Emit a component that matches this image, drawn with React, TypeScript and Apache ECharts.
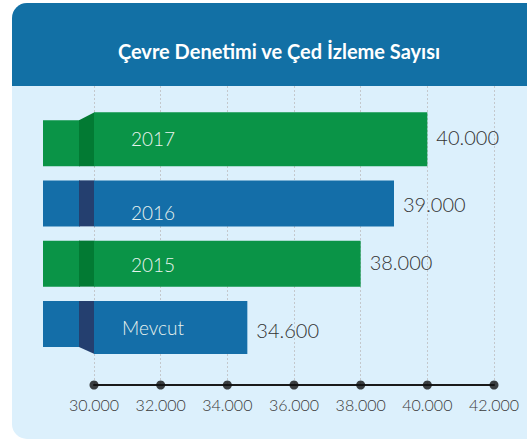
import React, { useEffect, useRef } from "react";
import * as echarts from "echarts";

const titleText = "Çevre Denetimi ve Çed İzleme Sayısı";
const categories = ["2017", "2016", "2015", "Mevcut"];
const values = [40000, 39000, 38000, 34600];
const tickValues = [30000, 32000, 34000, 36000, 38000, 40000, 42000];

// styles (not data)
const barColors = ["#0A9447", "#146EA8", "#0A9447", "#146EA8"];
const foldColors = ["#027A33", "#243F6F", "#027A33", "#243F6F"];
const foldTop = [8, 0, 0, 0];
const foldBottom = [0, 0, 0, 7];
const nameDy = [-5, 9, 1, 3.5];
const valueDy = [-6.5, 1, -1.5, 6];

const fmt = (v: number) => String(v).replace(/\B(?=(\d{3})+(?!\d))/g, ".");

export default function App() {
  const ref = useRef<HTMLDivElement>(null);
  useEffect(() => {
    if (!ref.current) return;
    const chart = echarts.init(ref.current, undefined, { renderer: "svg" });
    const axisMin = tickValues[0];
    const axisMax = tickValues[tickValues.length - 1];
    const step = tickValues[1] - tickValues[0];
    chart.setOption({
      animation: false,
      title: {
        text: titleText,
        left: 274,
        top: 36,
        textAlign: "center",
        textStyle: { color: "#ffffff", fontSize: 20, fontWeight: "bold", fontFamily: "Lato" },
      },
      graphic: [
        {
          type: "rect",
          z: -10,
          silent: true,
          shape: { x: 12, y: 3, width: 540, height: 436, r: [15, 0, 0, 15] },
          style: { fill: "#DCF0FC" },
        },
        {
          type: "rect",
          z: -9,
          silent: true,
          shape: { x: 12, y: 3, width: 540, height: 83, r: [15, 0, 0, 0] },
          style: { fill: "#1270A5" },
        },
      ],
      grid: [
        { left: 94, right: 33, top: 113, height: 241 },
        { left: 94, right: 33, top: 86, height: 299 },
      ],
      xAxis: [
        { gridIndex: 0, type: "value", min: axisMin, max: axisMax, interval: step, show: false },
        {
          gridIndex: 1,
          type: "value",
          min: axisMin,
          max: axisMax,
          interval: step,
          axisLine: { show: true, lineStyle: { color: "#1a1a1a", width: 2 } },
          axisTick: { show: false },
          axisLabel: {
            formatter: (v: number) => fmt(v),
            color: "#3a3a3a",
            fontSize: 16,
            fontWeight: 300,
            fontFamily: "Lato",
            margin: 11,
          },
          splitLine: { show: true, lineStyle: { color: "#c4c8cc", type: [2, 2], width: 1 } },
        },
      ],
      yAxis: [
        { gridIndex: 0, type: "category", data: categories, inverse: true, show: false },
        { gridIndex: 1, type: "value", min: 0, max: 1, show: false },
      ],
      series: [
        {
          type: "custom",
          xAxisIndex: 0,
          yAxisIndex: 0,
          clip: false,
          data: values.map((v, i) => [v, i]),
          encode: { x: 0, y: 1 },
          renderItem: (params: any, api: any) => {
            const i = params.dataIndex;
            const val = api.value(0);
            const cat = api.value(1);
            const p0 = api.coord([axisMin, cat]);
            const p1 = api.coord([val, cat]);
            const x0 = p0[0];
            const x1 = p1[0];
            const yc = p0[1];
            const h = 46;
            const top = yc - h / 2;
            const bot = yc + h / 2;
            const ft = foldTop[i];
            const fb = foldBottom[i];
            return {
              type: "group",
              children: [
                {
                  type: "rect",
                  shape: { x: x0 - 51, y: top, width: 37, height: h },
                  style: { fill: barColors[i] },
                },
                {
                  type: "polygon",
                  shape: {
                    points: [
                      [x0 - 15, top],
                      [x0 + 0.5, top - ft],
                      [x0 + 0.5, bot + fb],
                      [x0 - 15, bot],
                    ],
                  },
                  style: { fill: foldColors[i] },
                },
                {
                  type: "rect",
                  shape: { x: x0, y: top - ft, width: x1 - x0, height: h + ft + fb },
                  style: { fill: barColors[i] },
                },
                {
                  type: "text",
                  style: {
                    text: categories[i],
                    x: x0 + 59,
                    y: yc + nameDy[i],
                    textAlign: "center",
                    textVerticalAlign: "middle",
                    fill: "#e8f3ee",
                    fontSize: 19,
                    fontWeight: 300,
                    fontFamily: "Lato",
                  },
                },
                {
                  type: "text",
                  style: {
                    text: fmt(val),
                    x: x1 + 9,
                    y: yc + valueDy[i],
                    textAlign: "left",
                    textVerticalAlign: "middle",
                    fill: "#333333",
                    fontSize: 20,
                    fontWeight: 300,
                    fontFamily: "Lato",
                  },
                },
              ],
            };
          },
        },
        {
          type: "scatter",
          xAxisIndex: 1,
          yAxisIndex: 1,
          clip: false,
          symbolSize: 9,
          itemStyle: { color: "#111" },
          z: 5,
          data: tickValues.map((t) => [t, 0]),
        },
      ],
    });
    return () => chart.dispose();
  }, []);
  return (
    <div
      ref={ref}
      style={{ position: "absolute", left: 0, top: 0, width: 527, height: 439 }}
    />
  );
}
